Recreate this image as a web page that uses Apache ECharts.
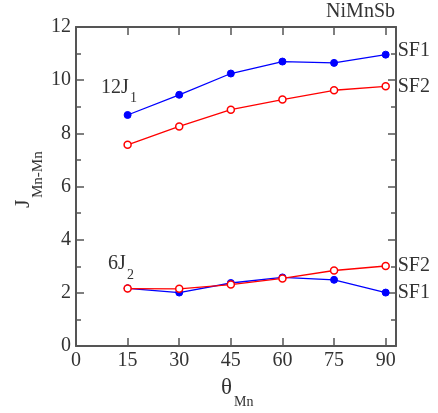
<!DOCTYPE html>
<html>
<head>
<meta charset="utf-8">
<script src="https://cdn.jsdelivr.net/npm/echarts@6/dist/echarts.min.js"></script>
<style>
html,body{margin:0;padding:0;background:#fff;}
#chart{width:438px;height:413px;}
</style>
</head>
<body>
<div id="chart"></div>
<script>
// Data
var thetaMn = [15, 30, 45, 60, 75, 90];
var j1SF1 = [8.69, 9.45, 10.25, 10.70, 10.65, 10.96];   // 12 J1, SF1
var j1SF2 = [7.57, 8.26, 8.89, 9.27, 9.62, 9.77];       // 12 J1, SF2
var j2SF1 = [2.17, 2.01, 2.37, 2.58, 2.49, 2.01];       // 6 J2, SF1
var j2SF2 = [2.16, 2.15, 2.31, 2.54, 2.84, 3.01];       // 6 J2, SF2
var xTicks = [0, 15, 30, 45, 60, 75, 90];
var yTicks = [0, 2, 4, 6, 8, 10, 12];

var FONT = '"Liberation Serif", "DejaVu Serif", serif';
var TXT = '#333';
var AX = '#555';

function pairs(xs, ys) { return xs.map(function (x, i) { return [x, ys[i]]; }); }

var chart = echarts.init(document.getElementById('chart'), null, {renderer: 'canvas'});

function xAxisCfg(pos, showLabel) {
  return {
    type: 'value', position: pos, min: 0, max: 93, interval: 15,
    axisLine: {show: true, onZero: false, lineStyle: {color: AX, width: 2}},
    axisTick: {show: true, inside: true, length: 8, lineStyle: {color: AX, width: 1.5}},
    axisLabel: {show: showLabel, margin: 5, fontFamily: FONT, fontSize: 20, color: TXT,
      formatter: function (v) { return xTicks.indexOf(v) >= 0 ? String(v) : ''; }},
    splitLine: {show: false}
  };
}
function yAxisCfg(pos, showLabel) {
  return {
    type: 'value', position: pos, min: 0, max: 12, interval: 2,
    axisLine: {show: true, onZero: false, lineStyle: {color: AX, width: 2}},
    axisTick: {show: true, inside: true, length: 8, lineStyle: {color: AX, width: 1.5}},
    minorTick: {show: true, splitNumber: 2, length: 5, lineStyle: {color: AX, width: 1.5}},
    axisLabel: {show: showLabel, margin: 5, fontFamily: FONT, fontSize: 20, color: TXT,
      formatter: function (v) { return yTicks.indexOf(v) >= 0 ? String(v) : ''; }},
    splitLine: {show: false}
  };
}

function lineSeries(name, ys, color, filled, dy) {
  return {
    name: name, type: 'line', xAxisIndex: 0, yAxisIndex: 0,
    data: pairs(thetaMn, ys),
    symbol: 'circle', symbolSize: 7,
    lineStyle: {color: color, width: 1.3},
    itemStyle: filled ? {color: color, borderColor: color, borderWidth: 1} : {color: '#fff', borderColor: color, borderWidth: 1.5},
    endLabel: {show: true, formatter: name, distance: 12, offset: [0, dy], fontFamily: FONT, fontSize: 20, color: TXT},
    z: filled ? 2 : 3
  };
}

chart.setOption({
  animation: false,
  backgroundColor: '#fff',
  grid: {left: 76, right: 42, top: 27, bottom: 67, containLabel: false},
  xAxis: [xAxisCfg('bottom', true), xAxisCfg('top', false)],
  yAxis: [yAxisCfg('left', true), yAxisCfg('right', false)],
  series: [
    lineSeries('SF1', j1SF1, '#0000ff', true, -4),
    lineSeries('SF2', j1SF2, '#ff0000', false, 0),
    lineSeries('SF1', j2SF1, '#0000ff', true, 0),
    lineSeries('SF2', j2SF2, '#ff0000', false, 0)
  ],
  graphic: [
    {type: 'text', x: 395, y: 12, style: {text: 'NiMnSb', font: '20px ' + FONT, fill: TXT, align: 'right', verticalAlign: 'middle'}},
    {type: 'group', x: 101, y: 95, children: [
      {type: 'text', x: 0, y: -7, style: {text: '12J', font: '20px ' + FONT, fill: TXT, align: 'left', verticalAlign: 'middle'}},
      {type: 'text', x: 29, y: 3, style: {text: '1', font: '14px ' + FONT, fill: TXT, align: 'left', verticalAlign: 'middle'}}
    ]},
    {type: 'group', x: 108, y: 271, children: [
      {type: 'text', x: 0, y: -7, style: {text: '6J', font: '20px ' + FONT, fill: TXT, align: 'left', verticalAlign: 'middle'}},
      {type: 'text', x: 19, y: 4, style: {text: '2', font: '14px ' + FONT, fill: TXT, align: 'left', verticalAlign: 'middle'}}
    ]},
    {type: 'group', x: 31, y: 208, rotation: Math.PI / 2, children: [
      {type: 'text', x: 0, y: -8, style: {text: 'J', font: '22px ' + FONT, fill: TXT, align: 'left', verticalAlign: 'middle'}},
      {type: 'text', x: 10, y: 7, style: {text: 'Mn-Mn', font: '15px ' + FONT, fill: TXT, align: 'left', verticalAlign: 'middle'}}
    ]},
    {type: 'group', x: 221, y: 396, children: [
      {type: 'text', x: 0, y: -8, style: {text: 'θ', font: '23px ' + FONT, fill: TXT, align: 'left', verticalAlign: 'middle'}},
      {type: 'text', x: 13, y: 6, style: {text: 'Mn', font: '14px ' + FONT, fill: TXT, align: 'left', verticalAlign: 'middle'}}
    ]}
  ]
});
</script>
</body>
</html>
